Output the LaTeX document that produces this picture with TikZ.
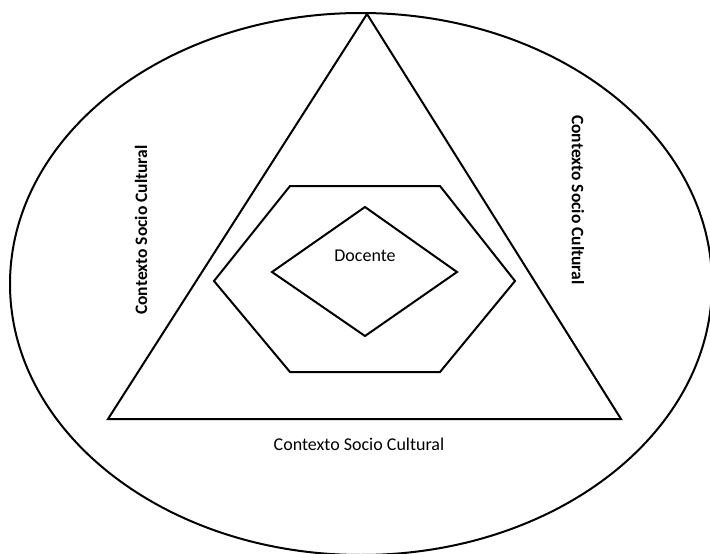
\documentclass[tikz,border=0pt]{standalone}
\usepackage{fontspec}
\setmainfont{Carlito}
\begin{document}
\begin{tikzpicture}[x=1pt,y=-1pt,
  outl/.style={draw=black,line width=2pt,line join=miter},
  lbl/.style={font=\fontsize{18}{20}\selectfont,inner sep=0pt}]
\useasboundingbox (0,0) rectangle (710,554);
% outer ellipse
\draw[outl] (361,284) ellipse [x radius=351, y radius=271];
% triangle
\coordinate (tA) at (367,14);
\coordinate (tB) at (108,419);
\coordinate (tC) at (621,419);
\draw[outl] (tA) -- (tB) -- (tC) -- cycle;
% hexagon
\coordinate (h1) at (290,186);
\coordinate (h2) at (440,186);
\coordinate (h3) at (515,281);
\coordinate (h4) at (440,372);
\coordinate (h5) at (290,372);
\coordinate (h6) at (214,281);
\draw[outl] (h1) -- (h2) -- (h3) -- (h4) -- (h5) -- (h6) -- cycle;
% diamond
\coordinate (d1) at (365,207);
\coordinate (d2) at (457,272);
\coordinate (d3) at (365,336);
\coordinate (d4) at (272,272);
\draw[outl] (d1) -- (d2) -- (d3) -- (d4) -- cycle;
% labels
\node[lbl] (doc) at (365,256) {Docente};
\node[lbl,rotate=90,font=\fontsize{17.5}{20}\selectfont\bfseries] (left) at (141,230) {Contexto Socio Cultural};
\node[lbl,rotate=-90,font=\fontsize{17.5}{20}\selectfont\bfseries] (right) at (578,200) {Contexto Socio Cultural};
\node[lbl] (bottom) at (359,444) {Contexto Socio Cultural};
\end{tikzpicture}
\end{document}
